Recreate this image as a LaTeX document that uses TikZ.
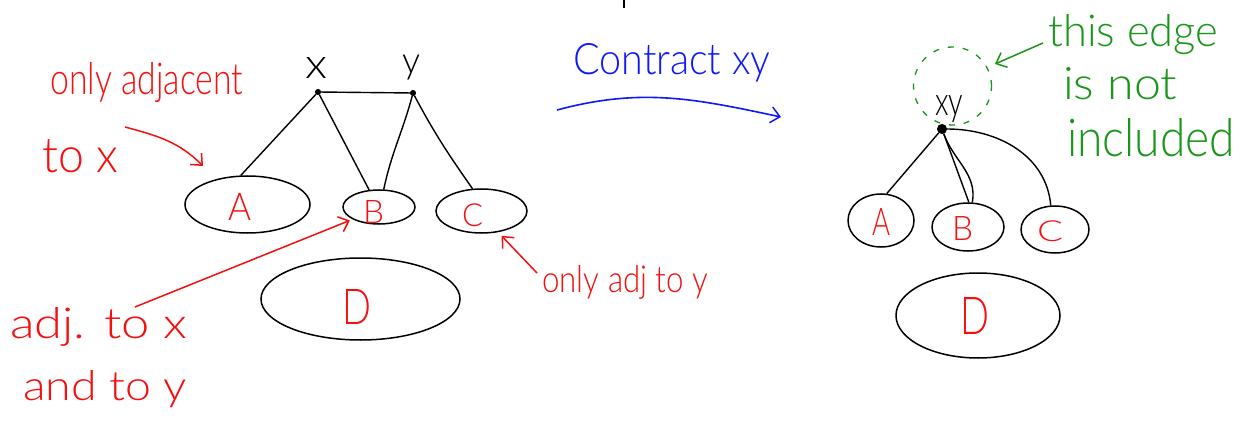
\documentclass[tikz,border=0pt]{standalone}
\usepackage{fontspec}
\usepackage{graphicx}
\setmainfont{Lato Light}
\usetikzlibrary{arrows.meta,shapes.geometric}
\definecolor{hred}{RGB}{245,15,15}
\definecolor{hblue}{RGB}{15,25,245}
\definecolor{hgreen}{RGB}{25,150,25}
\newcommand{\hw}[3]{\resizebox*{#1pt}{#2pt}{#3}}
\newcommand{\hb}[3]{\resizebox{#1pt}{#2pt}{#3}}
\begin{document}
\begin{tikzpicture}[x=1pt,y=-1pt,
  blob/.style={draw=black,line width=1.5pt,ellipse,inner sep=0pt},
  vdot/.style={circle,draw=black,fill=black,line width=1pt,inner sep=0pt,minimum size=5pt},
  edge/.style={draw=black,line width=1.4pt},
  txt/.style={inner sep=0pt,anchor=north west},
  btxt/.style={inner sep=0pt,anchor=base west},
  red/.style={txt,text=hred},
  bred/.style={btxt,text=hred},
  barb/.style={-{Straight Barb[length=9pt,width=16pt,line width=1.5pt]}},
  redarrow/.style={draw=hred,line width=1.5pt,barb},
]
\useasboundingbox (0,0) rectangle (1243,425);
\fill[white] (0,0) rectangle (1243,425);
% small tick at top
\coordinate (t1) at (624,0); \coordinate (t2) at (624,8);
\draw[line width=1.4pt] (t1) -- (t2);

% ---------- left graph ----------
\node[vdot] (x) at (318,92) {};
\node[vdot] (y) at (413,93) {};
\node[txt] (xl) at (305,57) {\hw{22}{21}{x}};
\node[txt] (yl) at (402,55) {\hw{18}{25}{y}};
\draw[edge] (x) -- (y);

\node[blob,minimum width=125pt,minimum height=57pt] (A) at (247.5,204.5) {};
\node[blob,minimum width=72pt,minimum height=34pt] (B) at (379,207) {};
\node[blob,minimum width=91pt,minimum height=44pt] (C) at (481.5,211) {};
\node[blob,minimum width=199pt,minimum height=82pt] (D) at (360.5,299) {};
\node[red] (Al) at (228,193) {\hw{23}{27}{A}};
\node[red] (Bl) at (363,200) {\hw{21}{23}{B}};
\node[red] (Cl) at (462,204) {\hw{21}{23}{C}};
\node[red] (Dl) at (342,289) {\hw{29}{35}{D}};
\draw[edge] (x) -- (A.103);
\draw[edge] (x) -- (B.120);
\draw[edge] (y) to[out=-105,in=78] (B.75);
\draw[edge] (y) to[out=-62,in=125] (C.112);

% red annotations
\node[bred] (n1) at (50,95) {\hb{193}{32}{only adjacent}};
\node[bred] (n2) at (42,172) {\hb{76}{33}{to x}};
\coordinate (a1s) at (125,127);
\coordinate (a1e) at (203,166);
\draw[redarrow] (a1s) to[out=-15,in=135] (a1e);

\node[bred] (n3) at (10,338) {\hb{177}{31}{adj. to x}};
\node[bred] (n4) at (23,400) {\hb{164}{30}{and to y}};
\coordinate (a2s) at (135,307);
\draw[redarrow,shorten >=3pt] (a2s) -- (B.205);

\node[bred] (n5) at (542,292) {\hb{166}{27}{only adj to y}};
\coordinate (a3s) at (537,273);
\draw[redarrow,shorten >=5pt] (a3s) -- (C.-52);

% blue
\node[btxt,text=hblue] (ct) at (573,75) {\hb{197}{31}{Contract xy}};
\coordinate (b1s) at (557,110);
\coordinate (b1e) at (781,117);
\draw[draw=hblue,line width=1.6pt,barb] (b1s) to[out=15,in=168] (b1e);

% ---------- right graph ----------
\node[vdot,minimum size=9pt] (xy) at (942,129) {};
\node[txt] (xyl) at (935,95) {\hw{28}{27}{xy}};
\node[circle,draw=hgreen,line width=1.3pt,dash pattern=on 6pt off 9pt,minimum size=78pt,inner sep=0pt] (loop) at (952.5,86) {};

\node[blob,minimum width=66pt,minimum height=53pt] (A2) at (881,220.5) {};
\node[blob,minimum width=72pt,minimum height=48pt] (B2) at (968,227) {};
\node[blob,minimum width=68pt,minimum height=47pt] (C2) at (1055,229.5) {};
\node[blob,minimum width=164pt,minimum height=85pt] (D2) at (978,315.5) {};
\node[red] (A2l) at (872,208) {\hw{18}{27}{A}};
\node[red] (B2l) at (952,216) {\hw{21}{24}{B}};
\node[red] (C2l) at (1037,221) {\hw{26}{21}{C}};
\node[red] (D2l) at (960,297) {\hw{29}{37}{D}};
\draw[edge] (xy) -- (A2.78);
\draw[edge] (xy) -- (B2.88);
\draw[edge] (xy) to[out=-70,in=80] (B2.80);
\draw[edge] (xy) to[out=0,in=95] (C2.100);

% green
\node[btxt,text=hgreen] (g1) at (1048,47) {\hb{170}{32}{this edge}};
\node[btxt,text=hgreen] (g2) at (1063,100) {\hb{114}{32}{is not}};
\node[btxt,text=hgreen] (g3) at (1067,157) {\hb{168}{38}{included}};
\coordinate (g4s) at (1043,43);
\coordinate (g4e) at (995,64);
\draw[draw=hgreen,line width=1.5pt,barb] (g4s) -- (g4e);
\end{tikzpicture}
\end{document}
